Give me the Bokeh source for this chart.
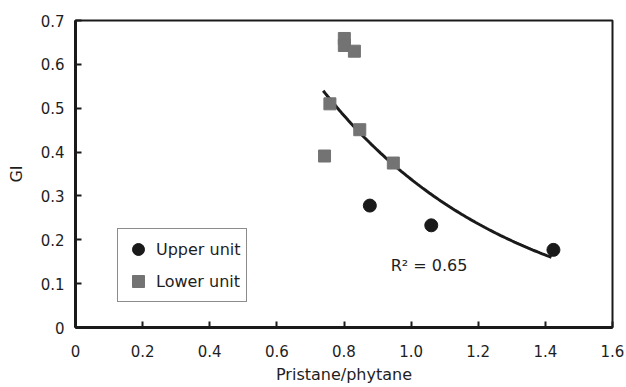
import numpy as np
from bokeh.plotting import figure
from bokeh.models import ColumnDataSource, Legend, LegendItem, Label, FixedTicker
from bokeh.embed import file_html
from bokeh.resources import INLINE

# Data
upper_x = [0.877, 1.060, 1.424]
upper_y = [0.278, 0.233, 0.177]
lower_x = [0.801, 0.801, 0.831, 0.758, 0.847, 0.742, 0.947]
lower_y = [0.659, 0.643, 0.630, 0.510, 0.451, 0.391, 0.375]

# exponential trendline y = a * exp(b * x)
fit_a = 2.02
fit_b = -1.788
fit_xmin, fit_xmax = 0.738, 1.418
r2_text = "R² = 0.65"

x_ticks = [0, 0.2, 0.4, 0.6, 0.8, 1.0, 1.2, 1.4, 1.6]
x_labels = ["0", "0.2", "0.4", "0.6", "0.8", "1.0", "1.2", "1.4", "1.6"]
y_ticks = [0, 0.1, 0.2, 0.3, 0.4, 0.5, 0.6, 0.7]
y_labels = ["0", "0.1", "0.2", "0.3", "0.4", "0.5", "0.6", "0.7"]

FONT = "DejaVu Sans"
DARK = "#1a1a1a"

p = figure(width=626, height=387, output_backend="svg", toolbar_location=None,
           x_range=(0, 1.6), y_range=(0, 0.7),
           min_border_left=75, min_border_right=14, min_border_top=20, min_border_bottom=60)
p.background_fill_color = "white"
p.border_fill_color = "white"
p.xgrid.visible = False
p.ygrid.visible = False
p.outline_line_color = DARK
p.outline_line_width = 2

fx = np.linspace(fit_xmin, fit_xmax, 100)
fy = fit_a * np.exp(fit_b * fx)
p.line(fx, fy, line_color=DARK, line_width=3)

src_u = ColumnDataSource(dict(x=upper_x, y=upper_y))
src_l = ColumnDataSource(dict(x=lower_x, y=lower_y))
r_l = p.scatter("x", "y", source=src_l, marker="square", size=12,
                fill_color="#737373", line_color="#737373")
r_u = p.scatter("x", "y", source=src_u, marker="circle", size=13,
                fill_color=DARK, line_color=DARK)

for ax, ticks, labels in ((p.xaxis[0], x_ticks, x_labels), (p.yaxis[0], y_ticks, y_labels)):
    ax.ticker = FixedTicker(ticks=ticks)
    ax.major_label_overrides = {t: l for t, l in zip(ticks, labels)}
    ax.major_tick_in = 6
    ax.major_tick_out = 0
    ax.minor_tick_in = 0
    ax.minor_tick_out = 0
    ax.major_tick_line_width = 2
    ax.major_tick_line_color = DARK
    ax.axis_line_width = 3
    ax.axis_line_color = DARK
    ax.major_label_text_font = FONT
    ax.major_label_text_font_size = "15px"
    ax.major_label_text_color = "#1e1e1e"
    ax.axis_label_text_font = FONT
    ax.axis_label_text_font_size = "16px"
    ax.axis_label_text_font_style = "normal"
    ax.axis_label_text_color = "#1e1e1e"

p.xaxis.axis_label = "Pristane/phytane"
p.yaxis.axis_label = "GI"
p.xaxis.major_label_standoff = 17
p.xaxis.axis_label_standoff = 5
p.yaxis.major_label_standoff = 11
p.yaxis.axis_label_standoff = 12

p.add_layout(Label(x=0.939, y=0.142, text=r2_text, text_font=FONT,
                   text_font_size="16px", text_color="#1e1e1e",
                   text_baseline="alphabetic"))

legend = Legend(items=[LegendItem(label="Upper unit", renderers=[r_u]),
                       LegendItem(label="Lower unit", renderers=[r_l])],
                location=(42, 25), orientation="vertical",
                label_text_font=FONT, label_text_font_size="16px",
                label_text_color="#1e1e1e",
                glyph_width=30, glyph_height=30, label_height=30,
                label_standoff=3, spacing=2, padding=5, margin=0,
                border_line_color=DARK, border_line_width=1.5,
                background_fill_alpha=1)
p.add_layout(legend)

open("out.html", "w").write(file_html(p, INLINE))
